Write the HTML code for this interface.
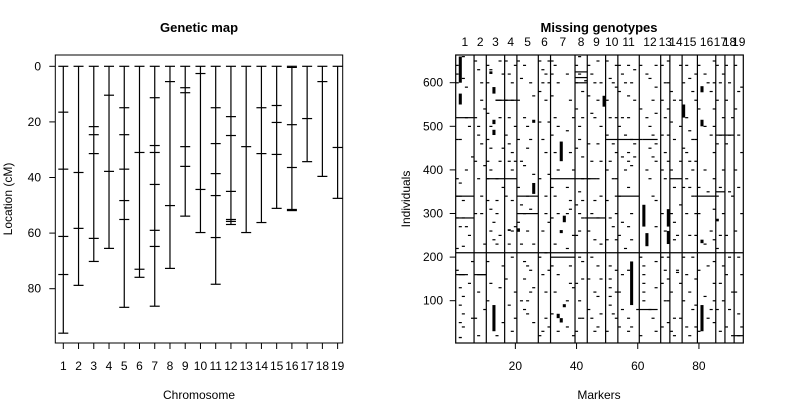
<!DOCTYPE html>
<html><head><meta charset="utf-8"><style>
html,body{margin:0;padding:0;background:#fff;}
svg{display:block;font-family:"Liberation Sans",Arial,sans-serif;}
</style></head><body>
<svg id="chart" width="800" height="400" viewBox="0 0 800 400" xmlns="http://www.w3.org/2000/svg">
<rect width="800" height="400" fill="#fff"/>
<g id="left"></g>
<g id="right"></g>
</svg>
<script>
// ---- Genetic map data (cM positions of markers per chromosome) ----
const chromosomes = ["1","2","3","4","5","6","7","8","9","10","11","12","13","14","15","16","17","18","19"];
const markerPositions = [
 [0,16.5,37,61.2,74.9,96],
 [0,38.2,58.3,78.8],
 [0,21.7,24.6,31.4,61.9,70.2],
 [0,10.4,37.8,65.5],
 [0,14.9,24.6,37,48.3,55.1,86.7],
 [0,31,73,75.9],
 [0,11.3,28.5,31,42.5,59,64.8,86.3],
 [0,5.5,50.1,72.7],
 [0,7.7,9.5,28.9,36,53.9],
 [0,2.6,44.3,59.8],
 [0,14.9,27.8,38.6,46.5,61.6,78.4],
 [0,18.1,24.9,45,55.1,55.8,56.9],
 [0,28.9,59.8],
 [0,14.9,31.4,56.2],
 [0,14.1,20.2,31.7,51.1],
 [0,0.4,21,36.4,51.5,51.9],
 [0,18.8,34.3],
 [0,5.5,39.6],
 [0,29.2,47.5]
];
const yTicksLeft = [0,20,40,60,80];
// ---- Missing genotype data ----
const markersPerChr = [6,4,6,4,7,4,8,4,6,4,7,7,3,4,5,6,3,3,3];
const yTicksRight = [100,200,300,400,500,600];
const xTicksRight = [20,40,60,80];
// blocks: [marker, fromInd, toInd]
const missingBlocks = [
 [2,600,660],[2,550,575],[13,575,590],[13,505,515],[13,480,492],[13,30,90],
 [26,345,370],[26,508,515],[35,420,465],[36,280,295],[35,255,262],[34,60,70],[36,85,92],[35,50,60],
 [49,545,570],[58,90,190],[62,270,320],[63,225,255],[70,230,260],[70,270,310],
 [75,520,550],[81,30,90],[81,578,592],[81,500,515],[86,282,288],[81,232,240],[2,14,17],
 [12,620,626],[18,260,264],[43,603,606],[21,258,266]
];
// row spans: [fromMarker, toMarker, individual]
const missingRows = [
 [11,20,380],[32,46,380],[1,6,340],[21,27,340],[53,60,340],[79,85,340],[1,6,290],[43,49,290],
 [40,43,600],[40,43,612],[40,43,625],[14,20,560],[54,60,470],[62,66,470],[86,91,480],[86,88,350],
 [91,94,20],[1,3,160],[7,10,160],[71,74,380],[50,53,470],[1,6,520],[21,27,300],[60,66,80],[32,39,200]
];
// singles: each entry [marker, individual]
const missingSingles = [
 [1,640],[1,600],[3,660],[3,610],[1,470],[2,470],[4,520],[1,340],[2,340],[3,330],[1,380],[2,370],[1,290],[3,290],[2,270],[4,270],[1,220],[3,225],[1,170],[2,160],[3,160],[4,160],[2,130],[3,110],[2,90],[3,70],[2,50],
 [7,650],[8,630],[9,600],[7,520],[8,500],[9,460],[7,420],[8,380],[9,340],[7,300],[8,160],[9,160],[10,160],[7,60],[8,20],
 [11,640],[12,630],[11,600],[14,560],[15,560],[11,530],[12,500],[11,470],[12,450],[11,420],[12,400],[11,380],[14,380],[11,330],[12,310],[14,300],[13,280],[12,260],[13,240],[14,230],[11,190],[12,140],[11,100],[14,20],
 [17,650],[18,620],[19,600],[17,560],[18,520],[17,480],[18,460],[19,440],[18,420],[19,400],[17,340],[19,260],[18,230],[17,150],[18,90],[19,30],
 [21,650],[22,610],[21,560],[23,520],[21,470],[24,450],[22,420],[21,360],[24,340],[22,320],[23,300],[21,280],[22,230],[24,180],[23,150],[25,120],[22,100],[24,70],[26,50],
 [28,650],[29,630],[30,620],[29,600],[28,580],[28,510],[29,470],[28,380],[30,300],[29,260],[28,200],[29,160],[30,60],[29,30],[28,20],
 [32,650],[33,640],[32,620],[34,600],[32,570],[33,520],[34,500],[32,480],[33,440],[34,400],[32,360],[33,340],[34,300],[32,290],[33,230],[37,300],[38,310],[32,180],[34,160],[33,120],[37,100],[38,140],[32,70],[34,30],
 [40,640],[41,620],[40,600],[42,580],[40,540],[41,500],[40,450],[42,380],[40,320],[41,300],[42,290],[40,250],[41,200],[42,190],[40,140],[41,100],[42,60],[40,30],
 [44,640],[45,620],[46,600],[44,570],[45,530],[46,520],[44,460],[45,420],[44,380],[46,330],[45,300],[44,260],[46,240],[45,200],[44,150],[46,120],[44,80],[45,60],[46,30],
 [50,650],[51,610],[52,600],[50,560],[51,520],[50,480],[52,460],[51,420],[50,400],[52,380],[50,330],[51,290],[52,270],[50,240],[51,180],[51,150],[51,130],[51,110],[51,90],[52,70],[50,30],
 [54,640],[55,620],[56,600],[54,580],[57,570],[55,520],[54,500],[56,480],[55,430],[57,420],[56,400],[54,340],[55,280],[54,250],[56,220],[55,160],[54,120],[55,80],[54,40],[57,30],[59,630],[59,560],[59,460],[59,430],
 [61,640],[63,620],[64,610],[65,560],[61,540],[63,520],[64,500],[65,480],[61,470],[64,450],[65,430],[63,400],[64,380],[65,340],[61,200],[62,180],[62,160],[62,140],[62,120],[62,100],[64,80],[65,60],[61,20],
 [68,640],[69,600],[68,560],[69,520],[68,480],[69,440],[68,400],[69,380],[68,300],[69,260],[68,200],[69,170],[68,140],[69,100],[68,40],
 [71,580],[72,560],[71,510],[72,470],[71,400],[72,360],[71,300],[72,280],[73,250],[72,240],[73,170],[73,165],[71,120],[72,60],[71,30],[72,20],
 [76,640],[77,610],[78,580],[76,520],[77,490],[78,470],[76,440],[77,420],[78,400],[76,380],[77,360],[78,340],[76,300],[77,250],[78,200],[76,160],[77,120],[78,80],[76,40],[77,20],
 [80,640],[82,620],[83,600],[84,580],[80,540],[82,500],[84,480],[82,400],[80,360],[83,350],[80,300],[84,260],[82,230],[83,180],[80,170],[82,110],[84,80],[83,60],[80,30],
 [86,640],[87,600],[86,560],[87,480],[86,460],[87,360],[86,340],[87,250],[86,220],[87,140],[86,80],[87,30],
 [89,640],[90,600],[89,560],[91,520],[90,480],[89,460],[90,350],[91,340],[89,250],[90,200],[89,160],[91,120],[90,80],[89,40],
 [92,640],[93,580],[94,590],[92,540],[93,480],[94,440],[92,400],[93,360],[94,300],[92,260],[93,200],[94,160],[92,120],[93,70],[94,40],[93,20],
 [1,620],[4,590],[5,500],[6,430],[4,400],[5,250],[6,190],[5,140],[6,60],[3,40],
 [9,560],[10,540],[8,480],[10,410],[9,300],[10,230],[8,120],[10,80],
 [15,650],[16,620],[15,520],[16,450],[15,420],[16,360],[14,330],[15,250],[16,180],[15,130],[16,50],
 [20,640],[19,560],[20,500],[20,420],[19,330],[20,270],[19,200],[20,120],[20,60],
 [23,640],[25,600],[26,570],[24,500],[25,470],[23,410],[26,390],[25,310],[24,260],[26,230],[23,190],[25,170],[26,130],[24,100],[23,80],
 [31,650],[31,600],[30,560],[31,510],[30,440],[31,390],[30,340],[31,280],[30,210],[31,170],[30,120],[31,40],
 [37,620],[38,560],[39,520],[37,490],[38,440],[39,400],[37,360],[38,330],[39,250],[37,220],[38,180],[39,130],[37,40],[39,20],
 [41,660],[42,520],[41,470],[42,430],[41,350],[42,330],[41,260],[42,150],[41,60],
 [47,650],[48,600],[47,560],[48,500],[47,460],[48,420],[47,380],[48,340],[47,290],[48,230],[47,180],[48,150],[47,110],[48,70],[47,40],
 [53,640],[53,590],[53,520],[53,440],[53,380],[53,300],[53,240],[53,170],[53,120],[53,60],
 [57,640],[58,600],[57,520],[58,470],[57,440],[58,410],[57,360],[58,300],[57,270],[58,240],[57,170],[57,60],[58,40],
 [66,640],[66,590],[66,530],[66,460],[66,420],[66,330],[66,270],[66,190],[66,130],[66,30],
 [70,650],[70,600],[70,540],[70,480],[70,420],[70,200],[70,150],[70,100],[70,50],
 [74,640],[75,600],[74,560],[74,500],[75,450],[74,420],[75,360],[74,320],[75,200],[74,140],[75,100],[74,60],
 [79,620],[79,560],[79,470],[79,420],[79,300],[79,250],[79,150],[79,90],[79,40],
 [85,650],[85,600],[85,540],[85,500],[85,440],[85,380],[85,310],[85,240],[85,190],[85,140],[85,100],[85,50],
 [88,620],[88,520],[88,400],[88,300],[88,180],[88,100]
];

const NS="http://www.w3.org/2000/svg";
function mk(parent,tag,attrs,name,text){
  const e=document.createElementNS(NS,tag);
  for(const k in attrs) e.setAttribute(k,attrs[k]);
  
  
  if(text!==undefined) e.textContent=text;
  parent.appendChild(e); return e;
}
// ---------- LEFT PANEL ----------
const L=document.getElementById('left');
const lBox={x0:55.3,x1:342.7,y0:55,y1:343};
const cmY=v=>66.3+v*2.78;
const chrX=i=>63.3+i*15.24;
mk(L,'rect',{x:lBox.x0,y:lBox.y0,width:lBox.x1-lBox.x0,height:lBox.y1-lBox.y0,fill:'none',stroke:'#000','stroke-width':1},'plot-frame');
mk(L,'text',{x:199,y:32,'text-anchor':'middle','font-size':13,'font-weight':'bold'},'chart-title','Genetic map');
yTicksLeft.forEach(v=>{
  mk(L,'line',{x1:lBox.x0-6,x2:lBox.x0,y1:cmY(v),y2:cmY(v),stroke:'#000'},'y-tick');
  mk(L,'text',{x:41,y:cmY(v)+4,'text-anchor':'end','font-size':12},'y-tick-label',String(v));
});
mk(L,'text',{x:12,y:199,'text-anchor':'middle','font-size':12,transform:'rotate(-90 12 199)'},'y-axis-title','Location (cM)');
mk(L,'text',{x:199,y:399,'text-anchor':'middle','font-size':12},'x-axis-title','Chromosome');
chromosomes.forEach((c,i)=>{
  const x=chrX(i);
  mk(L,'line',{x1:x,x2:x,y1:lBox.y1,y2:lBox.y1+6,stroke:'#000'},'x-tick');
  mk(L,'text',{x:x,y:370,'text-anchor':'middle','font-size':12},'x-tick-label',c);
  const pos=markerPositions[i];
  const mx=Math.max(...pos);
  mk(L,'line',{x1:x,x2:x,y1:cmY(0),y2:cmY(mx),stroke:'#000','stroke-width':1.2},'chromosome-'+c);
  pos.forEach(p=>{
    mk(L,'line',{x1:x-5,x2:x+5,y1:cmY(p),y2:cmY(p),stroke:'#000','stroke-width':1.2},'marker-tick');
  });
});
// ---------- RIGHT PANEL ----------
const R=document.getElementById('right');
const rBox={x0:455.7,x1:743.3,y0:55,y1:343};
const totalM=markersPerChr.reduce((a,b)=>a+b,0);
const mX=m=>rBox.x0+(m-0.5)*(rBox.x1-rBox.x0)/totalM;
const indY=v=>300.7-(v-100)*0.436;
const cellW=(rBox.x1-rBox.x0)/totalM;
mk(R,'text',{x:599,y:32,'text-anchor':'middle','font-size':13,'font-weight':'bold'},'chart-title','Missing genotypes');
missingBlocks.forEach(b=>{
  mk(R,'rect',{x:mX(b[0]-0.5),y:indY(b[2]),width:cellW,height:Math.max(1,(b[2]-b[1])*0.436),fill:'#000'},'missing-block');
});
missingRows.forEach(r=>{
  mk(R,'rect',{x:mX(r[0]-0.5),y:indY(r[2])-0.5,width:cellW*(r[1]-r[0]+1),height:1.2,fill:'#000'},'missing-row');
});
missingSingles.forEach(s=>{
  mk(R,'rect',{x:mX(s[0]-0.5),y:indY(s[1])-0.5,width:cellW,height:1.2,fill:'#000'},'missing-cell');
});
let cum=0;
markersPerChr.forEach((n,i)=>{
  const mid=cum+(n+1)/2;
  mk(R,'text',{x:mX(mid),y:46,'text-anchor':'middle','font-size':12},'chromosome-label',chromosomes[i]);
  cum+=n;
  if(i<markersPerChr.length-1){
    const x=mX(cum+0.5);
    mk(R,'line',{x1:x,x2:x,y1:rBox.y0,y2:rBox.y1,stroke:'#000','stroke-width':1.2},'chromosome-divider');
  }
});
mk(R,'line',{x1:rBox.x0,x2:rBox.x1,y1:indY(210),y2:indY(210),stroke:'#000','stroke-width':1.2},'group-divider');
mk(R,'rect',{x:rBox.x0,y:rBox.y0,width:rBox.x1-rBox.x0,height:rBox.y1-rBox.y0,fill:'none',stroke:'#000','stroke-width':1.2},'plot-frame');
yTicksRight.forEach(v=>{
  mk(R,'line',{x1:rBox.x0-6,x2:rBox.x0,y1:indY(v),y2:indY(v),stroke:'#000'},'y-tick');
  mk(R,'text',{x:443,y:indY(v)+4,'text-anchor':'end','font-size':12},'y-tick-label',String(v));
});
xTicksRight.forEach(v=>{
  mk(R,'line',{x1:mX(v),x2:mX(v),y1:rBox.y1,y2:rBox.y1+6,stroke:'#000'},'x-tick');
  mk(R,'text',{x:mX(v),y:370,'text-anchor':'middle','font-size':12},'x-tick-label',String(v));
});
mk(R,'text',{x:410,y:199,'text-anchor':'middle','font-size':12,transform:'rotate(-90 410 199)'},'y-axis-title','Individuals');
mk(R,'text',{x:599,y:399,'text-anchor':'middle','font-size':12},'x-axis-title','Markers');
</script>
</body></html>
